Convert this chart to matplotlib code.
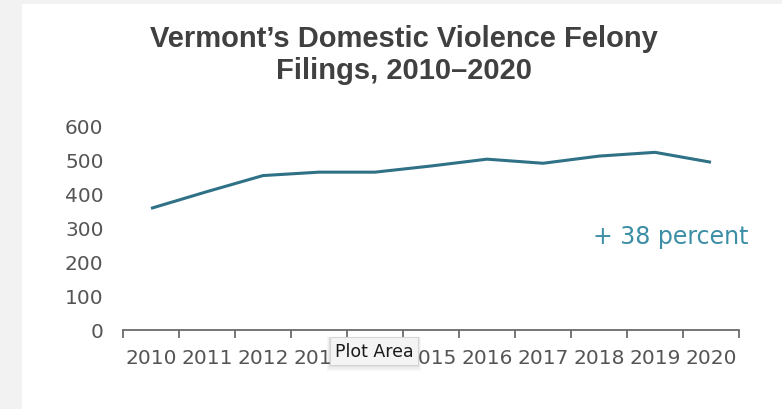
import matplotlib.pyplot as plt
from matplotlib.patches import Rectangle
import numpy as np

years = ["2010", "2011", "2012", "2013", "2014", "2015",
         "2016", "2017", "2018", "2019", "2020"]
filings = [356, 405, 452, 462, 462, 480, 500, 488, 509, 520, 491]
yticks = [0, 100, 200, 300, 400, 500, 600]

title = "Vermont\u2019s Domestic Violence Felony\nFilings, 2010\u20132020"
change_note = "+ 38 percent"

W, H = 782, 410
fig = plt.figure(figsize=(W / 100, H / 100), dpi=100, facecolor="#f2f2f2")

# white chart panel on the grey page
fig.patches.append(Rectangle((22 / W, 0), 1 - 22 / W, (H - 5) / H,
                             transform=fig.transFigure, facecolor="white",
                             edgecolor="none", zorder=-5))

ax = fig.add_axes([123 / W, 1 - 331 / H, (739 - 123) / W, (331 - 126) / H])
ax.set_facecolor("none")

x = np.arange(len(years))
ax.plot(x, filings, color="#2f7186", linewidth=2.2, solid_capstyle="butt")

ax.set_xlim(-0.5, len(years) - 0.5)
ax.set_ylim(0, 600)

for side in ["top", "right", "left"]:
    ax.spines[side].set_visible(False)
ax.spines["bottom"].set_color("#6b6b6b")
ax.spines["bottom"].set_linewidth(1.3)

# category labels centred, tick marks between categories
ax.set_xticks(x)
ax.set_xticklabels(years)
ax.set_xticks(np.arange(len(years) + 1) - 0.5, minor=True)
ax.tick_params(axis="x", which="major", length=0, pad=13,
               labelsize=14.5, labelcolor="#555555")
ax.tick_params(axis="x", which="minor", length=6, width=1.3,
               color="#6b6b6b", direction="out")

ax.set_yticks(yticks)
ax.tick_params(axis="y", length=0, pad=14, labelsize=14.5,
               labelcolor="#555555")

fig.text(404 / W, 1 - 55 / H, title, ha="center", va="center",
         fontsize=21, fontweight="bold", color="#404040",
         family="Liberation Sans", linespacing=1.15)

ax.text(9.29, 275, change_note, ha="center", va="center",
        fontsize=17, color="#3b8ea6")

# hover tooltip sitting over the axis labels, with a faint drop shadow
for off, alpha in [(6, 0.03), (4, 0.04), (2, 0.05)]:
    fig.patches.append(Rectangle(((330 - off / 2) / W, 1 - (366 + off) / H),
                                 (88 + off) / W, (28 + off) / H,
                                 transform=fig.transFigure,
                                 facecolor="black", alpha=alpha,
                                 edgecolor="none", zorder=5))
fig.patches.append(Rectangle((330 / W, 1 - 366 / H), 88 / W, 28 / H,
                             transform=fig.transFigure, facecolor="#f4f4f4",
                             edgecolor="#d6d6d6", linewidth=0.8, zorder=6))
fig.text(374 / W, 1 - 352 / H, "Plot Area", ha="center", va="center",
         fontsize=12.5, color="#1a1a1a", zorder=7)

fig.savefig("out.png", dpi=100, facecolor=fig.get_facecolor())
